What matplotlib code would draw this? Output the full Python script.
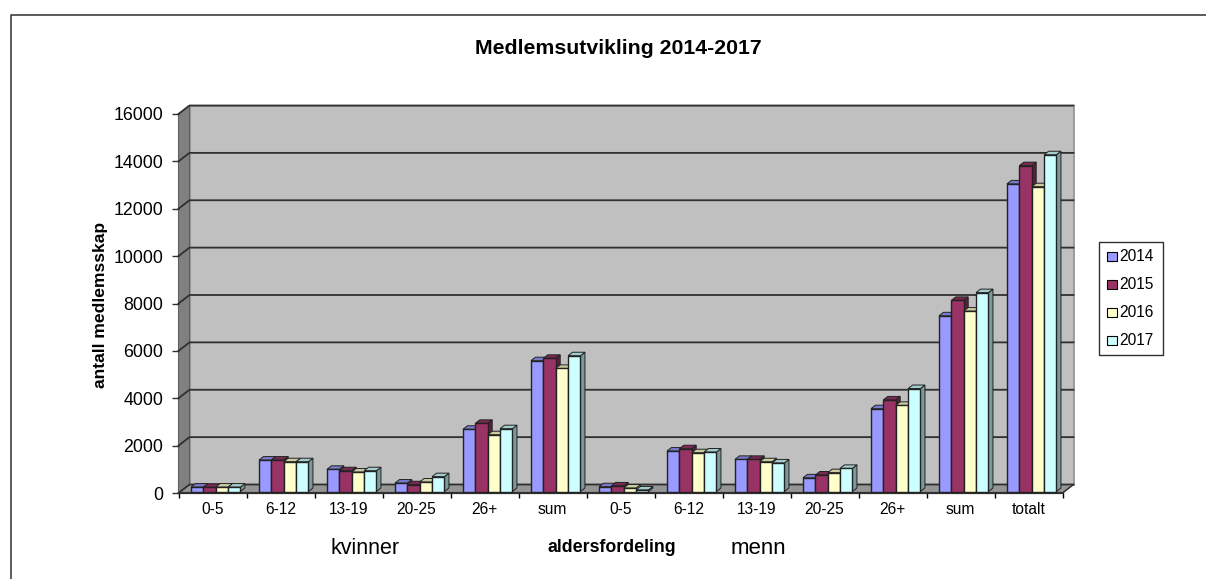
import matplotlib
matplotlib.use('Agg')
import matplotlib.pyplot as plt
from matplotlib.lines import Line2D
from matplotlib.patches import Polygon, Rectangle

plt.rcParams['font.family'] = ['Liberation Sans', 'DejaVu Sans']

# data
categories = ['0-5', '6-12', '13-19', '20-25', '26+', 'sum',
              '0-5', '6-12', '13-19', '20-25', '26+', 'sum', 'totalt']
v2014 = [250, 1390, 1000, 420, 2690, 5585, 265, 1770, 1420, 640, 3560, 7480, 13050]
v2015 = [240, 1390, 940, 350, 2940, 5685, 300, 1870, 1420, 760, 3930, 8130, 13820]
v2016 = [250, 1320, 886, 465, 2460, 5260, 210, 1700, 1320, 860, 3700, 7680, 12930]
v2017 = [250, 1320, 940, 690, 2715, 5795, 130, 1730, 1270, 1040, 4410, 8460, 14280]
years = ['2014', '2015', '2016', '2017']
series = [v2014, v2015, v2016, v2017]
colors = ['#9999FF', '#993366', '#FFFFCC', '#CCFFFF']
tops = ['#7A7ACC', '#7A2952', '#CCCCA3', '#A3CCCC']
sides = ['#5C5C99', '#5C1F3D', '#99997A', '#7A9999']

W, H = 1206, 579
fig = plt.figure(figsize=(W / 100, H / 100), dpi=100)

# outer frame: only top and left are in the picture
fig.add_artist(Line2D([11 / W, 11 / W, 1], [0, 1 - 15 / H, 1 - 15 / H], transform=fig.transFigure,
                      color='#404040', lw=1.2))

left, right, top, bottom = 178.5, 1062.5, 114, 493
ax = fig.add_axes([left / W, 1 - bottom / H, (right - left) / W, (bottom - top) / H])
ax.set_xlim(0, 13)
ax.set_ylim(0, 16000)
ax.patch.set_alpha(0)
for s in ax.spines.values():
    s.set_visible(False)

px_x = 13 / (right - left)
px_y = 16000 / (bottom - top)
dx = 11 * px_x   # wall depth
dy = 8.5 * px_y
bx = 4.5 * px_x  # bar depth
by = 3.5 * px_y
base = 1.5 * px_y  # bars stand a little behind the front edge

# walls and floor
ax.add_patch(Polygon([(dx, dy), (13 + dx, dy), (13 + dx, 16000 + dy), (dx, 16000 + dy)],
                     fc='#C0C0C0', ec='#909090', lw=1.2, clip_on=False, zorder=1))
ax.add_patch(Polygon([(0, 0), (dx, dy), (dx, 16000 + dy), (0, 16000)],
                     fc='#808080', ec='#606060', lw=0.8, clip_on=False, zorder=1))
ax.add_patch(Polygon([(0, 0), (13, 0), (13 + dx, dy), (dx, dy)],
                     fc='#969696', ec='#606060', lw=0.8, clip_on=False, zorder=1))

# gridlines
for g in range(0, 16001, 2000):
    ax.plot([0, dx, 13 + dx], [g, g + dy, g + dy], color='#303030', lw=1.3,
            clip_on=False, zorder=2)
ax.plot([0, 13], [0, 0], color='#303030', lw=1.6, clip_on=False, zorder=2)
ax.plot([13, 13 + dx], [0, dy], color='#303030', lw=1.0, clip_on=False, zorder=2)

# bars
offset = 0.183
bw = 0.182
z = 3
for i in range(len(categories)):
    for j, vals in enumerate(series):
        x0 = i + offset + j * bw
        x1 = x0 + bw
        v = vals[i]
        ax.add_patch(Polygon([(x1, base), (x1 + bx, base + by), (x1 + bx, v + by), (x1, v)],
                             fc=sides[j], ec='#222222', lw=0.7, clip_on=False, zorder=z))
        ax.add_patch(Polygon([(x0, v), (x1, v), (x1 + bx, v + by), (x0 + bx, v + by)],
                             fc=tops[j], ec='#222222', lw=0.7, clip_on=False, zorder=z))
        ax.add_patch(Rectangle((x0, base), bw, v - base, fc=colors[j], ec='#222222', lw=1.0,
                               clip_on=False, zorder=z + 0.5))
        z += 1

ax.set_yticks(range(0, 16001, 2000))
ax.tick_params(axis='y', labelsize=12.8, length=5, width=1, color='#303030', pad=6)
ax.set_xticks(range(14))
ax.set_xticklabels([])
ax.tick_params(axis='x', length=3.5, width=1, color='black', direction='out')
for i, c in enumerate(categories):
    fig.text((left + (i + 0.5) / px_x) / W, 1 - 509.5 / H, c, fontsize=11.2, ha='center', va='center')

fig.text(618 / W, 1 - 49 / H, 'Medlemsutvikling 2014-2017', fontsize=15.3, fontweight='bold',
         ha='center', va='center')
fig.text(100 / W, 1 - 305 / H, 'antall medlemsskap', fontsize=12.6, fontweight='bold',
         rotation=90, ha='center', va='center')
fig.text(365.5 / W, 1 - 549 / H, 'kvinner', fontsize=15.5, ha='center', va='center')
fig.text(612 / W, 1 - 548 / H, 'aldersfordeling', fontsize=12.8, fontweight='bold', ha='center', va='center')
fig.text(758.5 / W, 1 - 548 / H, 'menn', fontsize=16, ha='center', va='center')

# legend box, drawn by hand so the padding matches
fig.add_artist(Rectangle((1099 / W, 1 - 355 / H), 64 / W, 113 / H, transform=fig.transFigure,
                         fc='white', ec='#303030', lw=1.0))
for k, (c, y) in enumerate(zip(colors, years)):
    yc = 256.5 + k * 28
    fig.add_artist(Rectangle((1107 / W, 1 - (yc + 4.5) / H), 10 / W, 9 / H, transform=fig.transFigure,
                             fc=c, ec='black', lw=0.8))
    fig.text(1119 / W, 1 - yc / H, y, fontsize=11.2, ha='left', va='center')

fig.savefig('out.png', dpi=100)
